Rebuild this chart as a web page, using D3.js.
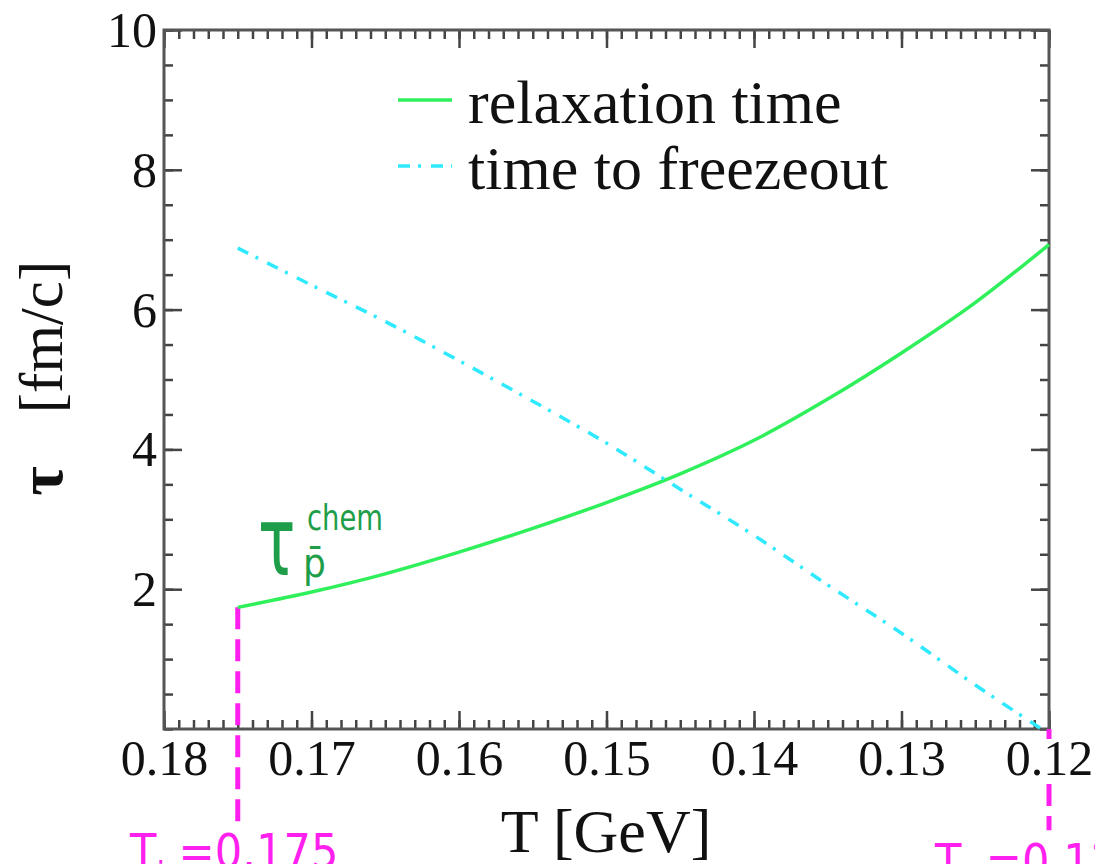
<!DOCTYPE html>
<html>
<head>
<meta charset="utf-8">
<script src="https://cdn.jsdelivr.net/npm/d3@7/dist/d3.min.js"></script>
<style>
  html, body { margin: 0; padding: 0; background: #fff; }
  svg { display: block; }
  .ax text { font-family: "Liberation Serif", "Times New Roman", serif; fill: #111; }
</style>
</head>
<body>
<div id="chart"></div>
<script>
// temperatures [GeV] and times [fm/c]
const relaxT = [0.175, 0.17, 0.165, 0.16, 0.155, 0.15, 0.145, 0.14, 0.135, 0.13, 0.125, 0.12]
const relaxTime = [1.74, 1.96, 2.22, 2.53, 2.87, 3.24, 3.65, 4.13, 4.72, 5.38, 6.10, 6.93]
const freezeT = [0.175, 0.17, 0.165, 0.16, 0.155, 0.15, 0.145, 0.14, 0.135, 0.13, 0.125, 0.1205]
const freezeTime = [6.88, 6.35, 5.83, 5.27, 4.69, 4.09, 3.43, 2.77, 2.06, 1.37, 0.63, 0.0]

const xTicks = [0.18, 0.17, 0.16, 0.15, 0.14, 0.13, 0.12]
const xTickLabels = ["0.18", "0.17", "0.16", "0.15", "0.14", "0.13", "0.12"]
const yTicks = [2, 4, 6, 8, 10]
const legendLabels = ["relaxation time", "time to freezeout"]
const Ti = 0.175, Tf = 0.12

var width = 1095
var height = 864
var mLeft = 164, mRight = 1049, mTop = 30, mBottom = 729

const svg = d3.select("#chart")
    .append("svg")
    .attr("width", width)
    .attr("height", height)

var x = d3.scaleLinear().domain([0.18, 0.12]).range([mLeft, mRight])
var y = d3.scaleLinear().domain([0, 10]).range([mBottom, mTop])

var xMinor = d3.range(0, 61).map(i => 0.12 + i * 0.001)
var yMinor = d3.range(0, 21).map(i => i * 0.5)

function styleAxis(g) {
    g.select(".domain").remove()
    g.selectAll("line").attr("stroke", "#444").attr("stroke-width", 2.5)
}

// minor ticks, all four sides
svg.append("g").attr("class", "ax").attr("transform", "translate(0," + mBottom + ")")
    .call(d3.axisBottom(x).tickValues(xMinor).tickSize(-9).tickFormat(""))
    .call(styleAxis)
svg.append("g").attr("class", "ax").attr("transform", "translate(0," + mTop + ")")
    .call(d3.axisTop(x).tickValues(xMinor).tickSize(-9).tickFormat(""))
    .call(styleAxis)
svg.append("g").attr("class", "ax").attr("transform", "translate(" + mLeft + ",0)")
    .call(d3.axisLeft(y).tickValues(yMinor).tickSize(-9).tickFormat(""))
    .call(styleAxis)
svg.append("g").attr("class", "ax").attr("transform", "translate(" + mRight + ",0)")
    .call(d3.axisRight(y).tickValues(yMinor).tickSize(-9).tickFormat(""))
    .call(styleAxis)

// major ticks + labels
svg.append("g").attr("class", "ax").attr("transform", "translate(0," + mBottom + ")")
    .call(d3.axisBottom(x).tickValues(xTicks).tickSize(-18).tickFormat((d, i) => xTickLabels[i]))
    .call(styleAxis)
    .selectAll("text")
    .attr("y", 46).attr("dy", null)
    .style("font-size", "50px")
svg.append("g").attr("class", "ax").attr("transform", "translate(0," + mTop + ")")
    .call(d3.axisTop(x).tickValues(xTicks).tickSize(-18).tickFormat(""))
    .call(styleAxis)
svg.append("g").attr("class", "ax").attr("transform", "translate(" + mLeft + ",0)")
    .call(d3.axisLeft(y).tickValues(yTicks).tickSize(-18).tickPadding(7))
    .call(styleAxis)
    .selectAll("text")
    .attr("dy", "0.33em")
    .style("font-size", "50px")
svg.append("g").attr("class", "ax").attr("transform", "translate(" + mRight + ",0)")
    .call(d3.axisRight(y).tickValues(yTicks).tickSize(-18).tickFormat(""))
    .call(styleAxis)

// frame
svg.append("rect")
    .attr("x", mLeft).attr("y", mTop)
    .attr("width", mRight - mLeft).attr("height", mBottom - mTop)
    .attr("fill", "none")
    .attr("stroke", "#555")
    .attr("stroke-width", 3)

// axis titles
svg.append("text")
    .attr("x", 606).attr("y", 852)
    .attr("text-anchor", "middle")
    .style("font-family", "Liberation Serif, serif")
    .style("font-size", "62px")
    .attr("fill", "#111")
    .text("T [GeV]")

svg.append("text")
    .attr("transform", "translate(62,481) rotate(-90)")
    .attr("text-anchor", "middle")
    .style("font-family", "Liberation Serif, serif")
    .style("font-size", "64px")
    .style("font-weight", "bold")
    .attr("fill", "#111")
    .text("τ")
svg.append("text")
    .attr("transform", "translate(62,337) rotate(-90)")
    .attr("text-anchor", "middle")
    .style("font-family", "Liberation Serif, serif")
    .style("font-size", "61px")
    .attr("fill", "#111")
    .text("[fm/c]")

// magenta T_i / T_f markers
var magenta = "#ff1fee"
svg.append("line")
    .attr("x1", x(Ti)).attr("x2", x(Ti))
    .attr("y1", y(relaxTime[0])).attr("y2", y(-1.45))
    .attr("stroke", magenta).attr("stroke-width", 5)
    .attr("stroke-dasharray", "22,10")
svg.append("line")
    .attr("x1", x(Tf)).attr("x2", x(Tf))
    .attr("y1", y(0)).attr("y2", y(-1.45))
    .attr("stroke", magenta).attr("stroke-width", 5)
    .attr("stroke-dasharray", "10,45,22,10,22")

var tiLabel = svg.append("text")
    .attr("x", 130).attr("y", 868)
    .style("font-family", "DejaVu Sans Condensed, DejaVu Sans, sans-serif")
    .style("font-size", "48px")
    .attr("fill", magenta)
tiLabel.append("tspan").text("T")
tiLabel.append("tspan").attr("dy", 18).style("font-size", "34px").text("i")
tiLabel.append("tspan").attr("dy", -18).text(" =0.175")

var tfLabel = svg.append("text")
    .attr("x", 935).attr("y", 878)
    .style("font-family", "DejaVu Sans Condensed, DejaVu Sans, sans-serif")
    .style("font-size", "48px")
    .attr("fill", magenta)
tfLabel.append("tspan").text("T")
tfLabel.append("tspan").attr("dy", 18).style("font-size", "34px").text("f")
tfLabel.append("tspan").attr("dy", -18).text(" =0.12")

// curves
var green = "#2ff05a"
var cyan = "#2feaff"

svg.append("path")
    .datum(relaxT.map((t, i) => [t, relaxTime[i]]))
    .attr("fill", "none")
    .attr("stroke", green)
    .attr("stroke-width", 3.5)
    .attr("d", d3.line()
        .x(d => x(d[0]))
        .y(d => y(d[1]))
        .curve(d3.curveCatmullRom))

svg.append("path")
    .datum(freezeT.map((t, i) => [t, freezeTime[i]]))
    .attr("fill", "none")
    .attr("stroke", cyan)
    .attr("stroke-width", 3.5)
    .attr("stroke-dasharray", "12,8,3,10")
    .attr("d", d3.line()
        .x(d => x(d[0]))
        .y(d => y(d[1]))
        .curve(d3.curveCatmullRom))

// tau^chem_pbar annotation
var ann = svg.append("g").attr("fill", "#1e9e48")
    .style("font-family", "DejaVu Sans Condensed, DejaVu Sans, sans-serif")
ann.append("text")
    .attr("transform", "translate(258,575) scale(0.72,1)")
    .style("font-size", "96px")
    .text("τ")
ann.append("text")
    .attr("x", 307).attr("y", 530)
    .attr("textLength", 76).attr("lengthAdjust", "spacingAndGlyphs")
    .style("font-size", "36px")
    .text("chem")
ann.append("text")
    .attr("x", 303).attr("y", 577)
    .style("font-size", "40px")
    .text("p\u0304")

// legend
var legend = svg.append("g")
var legendColors = [green, cyan]
var legendDash = [null, "12,8,3,10"]
legendLabels.forEach((lab, i) => {
    var ly = 100 + i * 66
    legend.append("line")
        .attr("x1", 398).attr("x2", 452)
        .attr("y1", ly).attr("y2", ly)
        .attr("stroke", legendColors[i])
        .attr("stroke-width", 3.5)
        .attr("stroke-dasharray", legendDash[i])
    legend.append("text")
        .attr("x", 468).attr("y", ly + 23)
        .style("font-family", "Liberation Serif, serif")
        .style("font-size", "62px")
        .attr("fill", "#111")
        .text(lab)
})
</script>
</body>
</html>
